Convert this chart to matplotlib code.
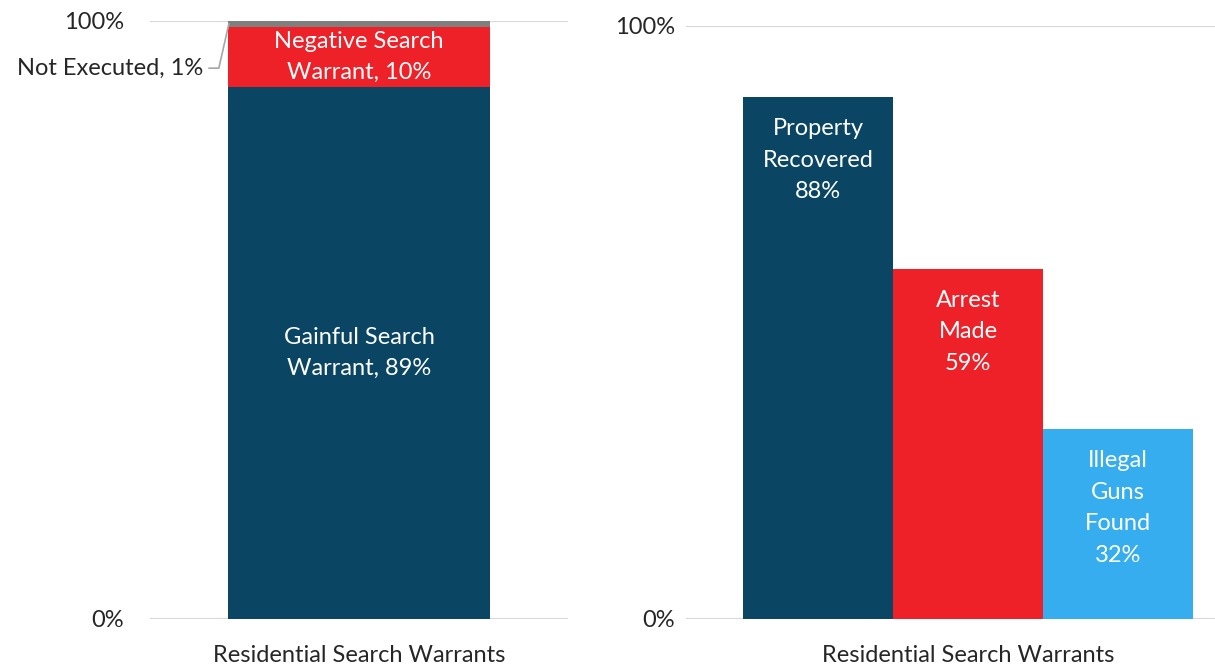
import matplotlib.pyplot as plt

# left chart: stacked outcome of residential search warrants
stack_labels = ['Gainful Search\nWarrant, 89%', 'Negative Search\nWarrant, 10%', 'Not Executed, 1%']
stack_values = [89, 10, 1]
stack_colors = ['#0A4563', '#EE2028', '#7F7F7F']

# right chart: results of gainful warrants
result_labels = ['Property\nRecovered\n88%', 'Arrest\nMade\n59%', 'Illegal\nGuns\nFound\n32%']
result_values = [88, 59, 32]
result_colors = ['#0A4563', '#EE2028', '#35ADEE']

category = 'Residential Search Warrants'
y_ticks = [0, 100]
y_ticklabels = ['0%', '100%']

plt.rcParams['font.family'] = ['Lato', 'DejaVu Sans']
FS = 17
TXT = '#262626'
GRID = '#D9D9D9'
LS = 1.62

fig = plt.figure(figsize=(12.15, 6.66), dpi=100)
ax1 = fig.add_axes([0.1235, 0.0706, 0.344, 0.898])
ax2 = fig.add_axes([0.5646, 0.0706, 0.4354, 0.8904])

for ax in (ax1, ax2):
    for s in ax.spines.values():
        s.set_visible(False)
    ax.set_ylim(0, 100)
    ax.set_yticks(y_ticks)
    ax.set_yticklabels(y_ticklabels, fontsize=FS, color=TXT)
    ax.yaxis.grid(True, color=GRID, linewidth=1.6)
    ax.set_axisbelow(True)
    ax.tick_params(length=0)

# ---- left: stacked bar
bw = 0.627
bottom = 0
for i, (v, c, lab) in enumerate(zip(stack_values, stack_colors, stack_labels)):
    ax1.bar(0, v, width=bw, bottom=bottom, color=c, zorder=2)
    if i < 2:
        ax1.text(0, bottom + v / 2, lab, ha='center', va='center', color='white',
                 fontsize=FS, linespacing=LS, zorder=3)
    else:
        # leader line to the thin grey slice
        mid = bottom + v / 2
        lx = -bw / 2
        ax1.plot([lx - 0.045, lx - 0.022, lx + 0.002], [92.1, 92.1, mid],
                 color='#A6A6A6', linewidth=1.2, clip_on=False, zorder=3)
        ax1.text(lx - 0.06, 92.1, lab, ha='right', va='center', color=TXT,
                 fontsize=FS)
    bottom += v
ax1.set_xlim(-0.5, 0.5)
ax1.set_xticks([0])
ax1.set_xticklabels([category], fontsize=FS, color=TXT)
ax1.tick_params(axis='x', pad=19)
ax1.tick_params(axis='y', pad=19)

# ---- right: three bars side by side
xs = list(range(len(result_values)))
ax2.bar(xs, result_values, width=1.0, color=result_colors, zorder=2)
for x, v, lab in zip(xs, result_values, result_labels):
    ax2.annotate(lab, (x, v), xytext=(0, -15), textcoords='offset points',
                 ha='center', va='top', color='white', fontsize=FS,
                 linespacing=LS, zorder=3)
ax2.set_xlim(-0.88, 2.647)
ax2.set_xticks([1])
ax2.set_xticklabels([category], fontsize=FS, color=TXT)
ax2.tick_params(axis='x', pad=19)
ax2.tick_params(axis='y', pad=8)

fig.savefig('out.png', dpi=100)
